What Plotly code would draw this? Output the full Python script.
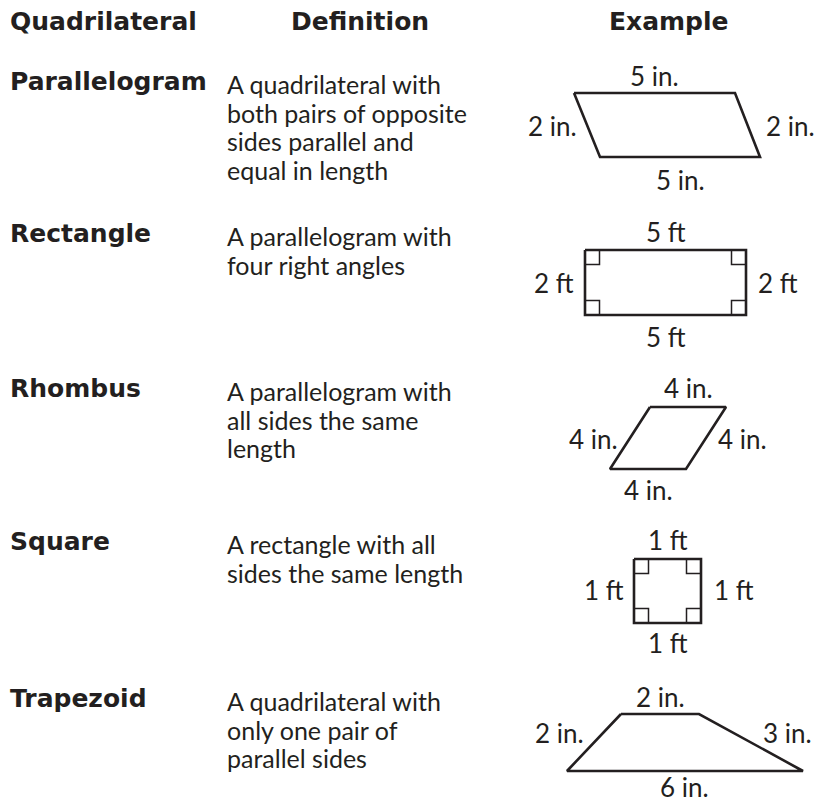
import plotly.graph_objects as go

# ---------------- data ----------------
headers = ["Quadrilateral", "Definition", "Example"]
names = ["Parallelogram", "Rectangle", "Rhombus", "Square", "Trapezoid"]
definitions = [
    ["A quadrilateral with", "both pairs of opposite", "sides parallel and", "equal in length"],
    ["A parallelogram with", "four right angles"],
    ["A parallelogram with", "all sides the same", "length"],
    ["A rectangle with all", "sides the same length"],
    ["A quadrilateral with", "only one pair of", "parallel sides"],
]
# side lengths: top, bottom, left, right
top_len = [5, 5, 4, 1, 2]
bottom_len = [5, 5, 4, 1, 6]
left_len = [2, 2, 4, 1, 2]
right_len = [2, 2, 4, 1, 3]
units = ["in.", "ft", "in.", "ft", "in."]
right_angles = [False, True, False, True, False]

# ---------------- layout / style ----------------
W, H = 814, 803
INK = "#231f20"
BOLD = dict(family="DejaVu Sans", size=25, color=INK, weight=700)
BODY = dict(family="Lato", size=25, color=INK)
LABEL = dict(family="Lato", size=26, color=INK)
row_y = [81, 233, 388, 541, 698]
label_x = 8
def_x = 225
def_dy = 3
line_gap = 28.5
header_y = 21.5
header_x = [8, 360, 669]
header_anchor = ["left", "center", "center"]

# per-shape drawing geometry:
# (top-left x, top y, px per unit top, px per unit bottom, bottom-left x offset, height)
geom = [
    (574, 93, 32.2, 32.0, 26, 64),
    (585, 250, 32.2, 32.2, 0, 65),
    (650, 407, 19.0, 19.0, -40, 62),
    (634, 559, 67.0, 67.0, 0, 64),
    (621, 714, 39.0, 39.33, -54, 57),
]
top_off = [-17.5, -18, -19, -19, -17]
bot_off = [23, 22, 21, 20, 16]
side_dy = [1, 0, 1, -1, -10]
left_gap = [8, 9, 10, 8, 8]
right_gap = [16, 10, 10, 11, 10]
mark = 14.5

fig = go.Figure()
ann = []

for i, h in enumerate(headers):
    ann.append(dict(x=header_x[i], y=header_y, text=h, xanchor=header_anchor[i],
                    yanchor="middle", font=BOLD))

for r, nm in enumerate(names):
    ann.append(dict(x=label_x, y=row_y[r], text=nm, xanchor="left", yanchor="middle", font=BOLD))
    for k, line in enumerate(definitions[r]):
        ann.append(dict(x=def_x, y=row_y[r] + def_dy + k * line_gap, text=line, xanchor="left",
                        yanchor="middle", font=BODY))

    x0, y0, st, sb, off, hgt = geom[r]
    tw = top_len[r] * st
    bw = bottom_len[r] * sb
    tl = (x0, y0)
    tr = (x0 + tw, y0)
    bl = (x0 + off, y0 + hgt)
    br = (x0 + off + bw, y0 + hgt)
    xs = [tl[0], tr[0], br[0], bl[0], tl[0]]
    ys = [tl[1], tr[1], br[1], bl[1], tl[1]]
    fig.add_trace(go.Scatter(x=xs, y=ys, mode="lines",
                             line=dict(color=INK, width=2.6, shape="linear"),
                             hoverinfo="skip", showlegend=False))
    if right_angles[r]:
        for (cx, cy, sx, sy) in [(tl[0], tl[1], 1, 1), (tr[0], tr[1], -1, 1),
                                 (bl[0], bl[1], 1, -1), (br[0], br[1], -1, -1)]:
            fig.add_trace(go.Scatter(x=[cx + sx * mark, cx + sx * mark, cx],
                                     y=[cy, cy + sy * mark, cy + sy * mark], mode="lines",
                                     line=dict(color=INK, width=1.5), hoverinfo="skip",
                                     showlegend=False))
    u = units[r]
    ann.append(dict(x=(tl[0] + tr[0]) / 2, y=y0 + top_off[r], text=f"{top_len[r]} {u}",
                    xanchor="center", yanchor="middle", font=LABEL))
    ann.append(dict(x=(bl[0] + br[0]) / 2, y=y0 + hgt + bot_off[r], text=f"{bottom_len[r]} {u}",
                    xanchor="center", yanchor="middle", font=LABEL))
    my = y0 + hgt / 2 + side_dy[r]
    lx = (tl[0] + bl[0]) / 2
    rx = (tr[0] + br[0]) / 2
    ann.append(dict(x=lx - left_gap[r], y=my, text=f"{left_len[r]} {u}", xanchor="right",
                    yanchor="middle", font=LABEL))
    ann.append(dict(x=rx + right_gap[r], y=my, text=f"{right_len[r]} {u}", xanchor="left",
                    yanchor="middle", font=LABEL))

for a in ann:
    a.update(xref="x", yref="y", showarrow=False)

fig.update_layout(
    width=W, height=H, margin=dict(l=0, r=0, t=0, b=0),
    paper_bgcolor="white", plot_bgcolor="white",
    xaxis=dict(range=[0, W], visible=False, fixedrange=True),
    yaxis=dict(range=[H, 0], visible=False, fixedrange=True),
    annotations=ann,
)
fig.write_html("out.html", config={"displayModeBar": False},
               post_script="document.body.style.margin='0px';document.body.style.overflow='hidden';")
